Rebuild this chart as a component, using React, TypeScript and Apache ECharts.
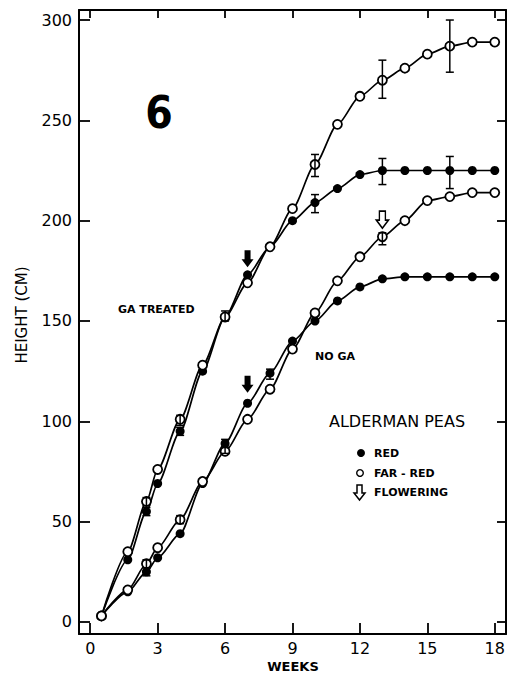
import React, { useEffect, useRef } from "react";
import * as echarts from "echarts";

// ---- data ----
const WEEKS = [0.5, 1.67, 2.5, 3, 4, 5, 6, 7, 8, 9, 10, 11, 12, 13, 14, 15, 16, 17, 18];
const GA_FAR_RED = [3, 35, 60, 76, 101, 128, 152, 169, 187, 206, 228, 248, 262, 270, 276, 283, 287, 289, 289];
const GA_RED = [3, 31, 55, 69, 95, 125, 152, 173, 187, 200, 209, 216, 223, 225, 225, 225, 225, 225, 225];
const NOGA_FAR_RED = [3, 16, 29, 37, 51, 70, 85, 101, 116, 136, 154, 170, 182, 192, 200, 210, 212, 214, 214];
const NOGA_RED = [3, 15, 25, 32, 44, 69, 89, 109, 124, 140, 150, 160, 167, 171, 172, 172, 172, 172, 172];

// error bars: [week, low, high]
const ERR_GA_FAR_RED = [[10, 222, 233], [13, 261, 280], [16, 274, 300], [2.5, 58, 62], [4, 98, 103], [6, 150, 155]];
const ERR_GA_RED = [[10, 204, 213], [13, 218, 231], [16, 216, 232], [2.5, 53, 57], [4, 93, 97]];
const ERR_NOGA_FAR_RED = [[13, 188, 194], [2.5, 27, 31], [4, 49, 53], [6, 84, 87]];
const ERR_NOGA_RED = [[8, 121, 126], [6, 87, 91], [2.5, 23, 27]];

// flowering arrows [week, height]
const ARROWS_FILLED = [[7, 181], [7, 118.5]];
const ARROWS_OPEN = [[13, 200.5]];

const X_TICKS = [0, 3, 6, 9, 12, 15, 18];
const Y_TICKS = [0, 50, 100, 150, 200, 250, 300];

const FONT = "DejaVu Sans";
const ARROW_PATH = "path://M3,0 L9,0 L9,9 L12,9 L6,17 L0,9 L3,9 Z";

const zip = (xs: number[], ys: number[]) => xs.map((x, i) => [x, ys[i]]);

function lineSeries(name: string, ys: number[], open: boolean) {
  return {
    name,
    type: "line",
    data: zip(WEEKS, ys),
    smooth: 0.25,
    smoothMonotone: "x",
    symbol: "circle",
    symbolSize: 9,
    lineStyle: { color: "#000", width: 1.7 },
    itemStyle: open
      ? { color: "#fff", borderColor: "#000", borderWidth: 1.8, opacity: 1 }
      : { color: "#000", borderColor: "#000", borderWidth: 0, opacity: 1 },
    z: open ? 4 : 3,
  };
}

function errSeries(data: number[][]) {
  return {
    type: "custom",
    data,
    encode: { x: 0, y: [1, 2] },
    z: 5,
    renderItem: (params: any, api: any) => {
      const x = api.value(0);
      const lo = api.coord([x, api.value(1)]);
      const hi = api.coord([x, api.value(2)]);
      const w = 4;
      const style = { stroke: "#000", lineWidth: 1.5 };
      return {
        type: "group",
        children: [
          { type: "line", shape: { x1: lo[0], y1: lo[1], x2: hi[0], y2: hi[1] }, style },
          { type: "line", shape: { x1: lo[0] - w, y1: lo[1], x2: lo[0] + w, y2: lo[1] }, style },
          { type: "line", shape: { x1: hi[0] - w, y1: hi[1], x2: hi[0] + w, y2: hi[1] }, style },
        ],
      };
    },
  };
}

export default function App() {
  const ref = useRef<HTMLDivElement>(null);

  useEffect(() => {
    if (!ref.current) return;
    const chart = echarts.init(ref.current, null, { renderer: "svg" });

    const axisCommon = {
      type: "value",
      splitLine: { show: false },
      axisLine: { show: true, onZero: false, lineStyle: { color: "#000", width: 2 } },
    };

    const option: any = {
      animation: false,
      backgroundColor: "#fff",
      grid: { left: 79, right: 11, top: 10, bottom: 43, containLabel: false },
      xAxis: [
        {
          ...axisCommon,
          position: "bottom",
          min: -0.5,
          max: 18.5,
          axisTick: { show: true, inside: true, length: 11, customValues: X_TICKS, lineStyle: { color: "#000", width: 1.8 } },
          axisLabel: { show: true, customValues: X_TICKS, color: "#000", fontSize: 16, fontFamily: FONT, margin: 6 },
        },
        {
          ...axisCommon,
          position: "top",
          min: -0.5,
          max: 18.5,
          axisTick: { show: true, inside: true, length: 8, customValues: X_TICKS, lineStyle: { color: "#000", width: 1.8 } },
          axisLabel: { show: false },
        },
      ],
      yAxis: [
        {
          ...axisCommon,
          position: "left",
          min: -6,
          max: 305,
          axisTick: { show: true, inside: true, length: 11, customValues: Y_TICKS, lineStyle: { color: "#000", width: 1.8 } },
          axisLabel: { show: true, customValues: Y_TICKS, color: "#000", fontSize: 16, fontFamily: FONT, margin: 7 },
        },
        {
          ...axisCommon,
          position: "right",
          min: -6,
          max: 305,
          axisTick: { show: true, inside: true, length: 9, customValues: Y_TICKS, lineStyle: { color: "#000", width: 1.8 } },
          axisLabel: { show: false },
        },
      ],
      series: [
        lineSeries("GA red", GA_RED, false),
        lineSeries("No GA red", NOGA_RED, false),
        lineSeries("GA far-red", GA_FAR_RED, true),
        lineSeries("No GA far-red", NOGA_FAR_RED, true),
        errSeries(ERR_GA_FAR_RED),
        errSeries(ERR_GA_RED),
        errSeries(ERR_NOGA_FAR_RED),
        errSeries(ERR_NOGA_RED),
        {
          type: "scatter",
          data: ARROWS_FILLED,
          symbol: ARROW_PATH,
          symbolSize: [12, 17],
          itemStyle: { color: "#000", opacity: 1 },
          z: 6,
        },
        {
          type: "scatter",
          data: ARROWS_OPEN,
          symbol: ARROW_PATH,
          symbolSize: [12, 17],
          itemStyle: { color: "#fff", borderColor: "#000", borderWidth: 1.6, opacity: 1 },
          z: 6,
        },
      ],
      graphic: [
        {
          type: "text",
          x: 159,
          y: 112,
          style: {
            text: "6",
            fontSize: 44,
            fontWeight: "bold",
            fontFamily: "DejaVu Sans Condensed, DejaVu Sans",
            fill: "#000",
            align: "center",
            verticalAlign: "middle",
          },
        },
        {
          type: "text",
          x: 118,
          y: 309,
          style: { text: "GA TREATED", fontSize: 11, fontWeight: "bold", fontFamily: FONT, fill: "#000", verticalAlign: "middle" },
        },
        {
          type: "text",
          x: 315,
          y: 356,
          style: { text: "NO GA", fontSize: 11, fontWeight: "bold", fontFamily: FONT, fill: "#000", verticalAlign: "middle" },
        },
        {
          type: "text",
          x: 397,
          y: 421,
          style: { text: "ALDERMAN PEAS", fontSize: 16, fontFamily: FONT, fill: "#000", align: "center", verticalAlign: "middle" },
        },
        { type: "circle", shape: { cx: 361, cy: 453, r: 4 }, style: { fill: "#000" } },
        {
          type: "text",
          x: 374,
          y: 453,
          style: { text: "RED", fontSize: 11, fontWeight: "bold", fontFamily: FONT, fill: "#000", verticalAlign: "middle" },
        },
        { type: "circle", shape: { cx: 360, cy: 473, r: 3.3 }, style: { fill: "#fff", stroke: "#000", lineWidth: 1.4 } },
        {
          type: "text",
          x: 374,
          y: 473,
          style: { text: "FAR - RED", fontSize: 11, fontWeight: "bold", fontFamily: FONT, fill: "#000", verticalAlign: "middle" },
        },
        {
          type: "polygon",
          shape: {
            points: [
              [357, 485],
              [362, 485],
              [362, 493],
              [365, 493],
              [359.5, 500],
              [354, 493],
              [357, 493],
            ],
          },
          style: { fill: "#fff", stroke: "#000", lineWidth: 1.5 },
        },
        {
          type: "text",
          x: 374,
          y: 492,
          style: { text: "FLOWERING", fontSize: 11, fontWeight: "bold", fontFamily: FONT, fill: "#000", verticalAlign: "middle" },
        },
        {
          type: "text",
          x: 22,
          y: 315,
          rotation: Math.PI / 2,
          style: { text: "HEIGHT (CM)", fontSize: 15, fontFamily: FONT, fill: "#000", align: "center", verticalAlign: "middle" },
        },
        {
          type: "text",
          x: 293,
          y: 666,
          style: { text: "WEEKS", fontSize: 13, fontWeight: "bold", fontFamily: FONT, fill: "#000", align: "center", verticalAlign: "middle" },
        },
      ],
    };

    chart.setOption(option);
    return () => chart.dispose();
  }, []);

  return (
    <div
      ref={ref}
      style={{ position: "absolute", left: 0, top: 0, width: 517, height: 677, background: "#fff" }}
    />
  );
}
